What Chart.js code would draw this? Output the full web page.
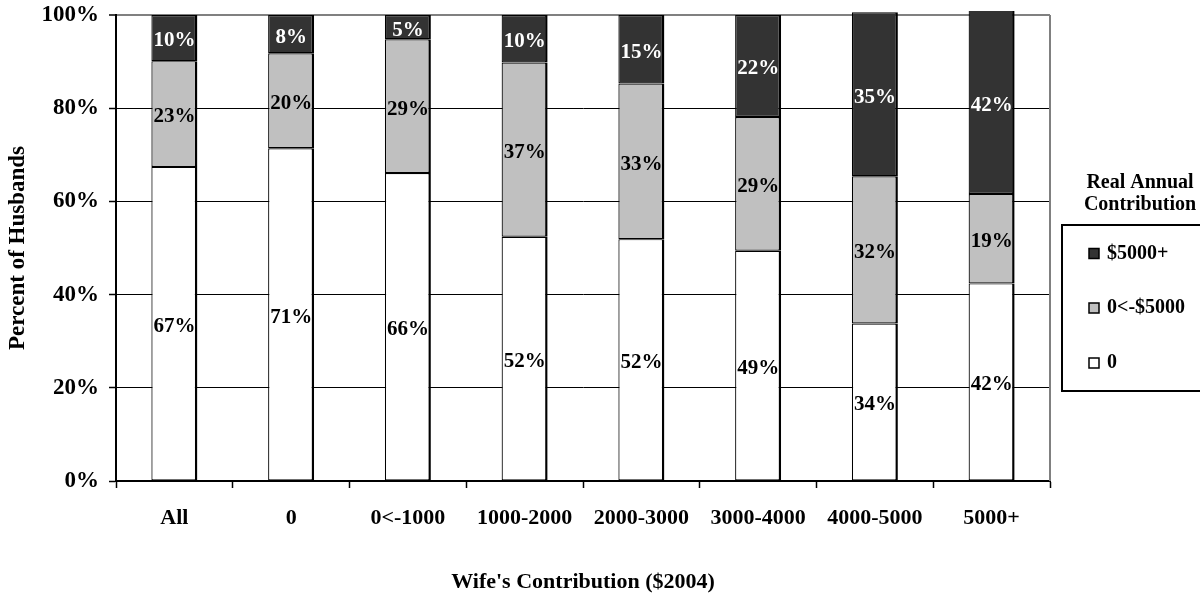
<!DOCTYPE html>
<html>
<head>
<meta charset="utf-8">
<script src="https://cdn.jsdelivr.net/npm/chart.js@4.4.1/dist/chart.umd.min.js"></script>
<style>
  html, body { margin: 0; padding: 0; background: #ffffff; }
  #wrap { width: 1200px; height: 599px; position: relative; }
</style>
</head>
<body>
<div id="wrap"><canvas id="c" width="1200" height="599"></canvas></div>
<script>
// ---- data (percent of husbands) ----
const categories = ["All", "0", "0<-1000", "1000-2000", "2000-3000", "3000-4000", "4000-5000", "5000+"];
const seriesZero   = [67.4, 71.4, 66.1, 52.4, 51.9, 49.4, 33.8, 42.4];   // 0
const seriesMid    = [22.7, 20.4, 28.7, 37.4, 33.4, 28.7, 31.6, 19.2];   // 0<-$5000
const seriesHigh   = [9.9, 8.2, 5.2, 10.2, 14.7, 21.9, 35.2, 41.6];      // $5000+
const seriesNames  = ["0", "0<-$5000", "$5000+"];
const yTicks       = [0, 20, 40, 60, 80, 100];
const legendTitle  = ["Real Annual", "Contribution"];
const xTitle       = "Wife's Contribution ($2004)";
const yTitle       = "Percent of Husbands";

const FONT = "'Liberation Serif', 'Times New Roman', serif";
const fillColors  = ["#ffffff", "#c0c0c0", "#333333"];
const labelColors = ["#000000", "#000000", "#ffffff"];

const barBorder = { top: 1.2, bottom: 1.2, left: 1.2, right: 2.5 };

function makeDataset(label, data, i) {
  return {
    label: label,
    data: data,
    backgroundColor: fillColors[i],
    borderColor: "#000000",
    borderWidth: barBorder,
    borderSkipped: false,
    barPercentage: 0.394,
    categoryPercentage: 1.0,
    clip: { left: 0, right: 0, bottom: 0, top: 4 }
  };
}

const dataLabelPlugin = {
  id: "dataLabels",
  afterDatasetsDraw(chart) {
    const ctx = chart.ctx;
    ctx.save();
    ctx.font = "bold 21px " + FONT;
    ctx.textAlign = "center";
    ctx.textBaseline = "middle";
    chart.data.datasets.forEach((ds, di) => {
      const meta = chart.getDatasetMeta(di);
      meta.data.forEach((bar, i) => {
        const top = Math.max(bar.y, chart.chartArea.top - 4);
        const cy = (top + bar.base) / 2 + 3;
        ctx.fillStyle = labelColors[di];
        ctx.fillText(Math.round(ds.data[i]) + "%", bar.x, cy);
      });
    });
    ctx.restore();
  }
};

const framePlugin = {
  id: "frame",
  beforeDatasetsDraw(chart) {
    const { ctx, chartArea } = chart;
    ctx.save();
    ctx.strokeStyle = "#808080";
    ctx.lineWidth = 2;
    ctx.beginPath();
    ctx.moveTo(chartArea.right, chartArea.top);
    ctx.lineTo(chartArea.right, chartArea.bottom);
    ctx.stroke();
    ctx.restore();
  }
};

const legendPlugin = {
  id: "customLegend",
  afterDraw(chart) {
    const ctx = chart.ctx;
    ctx.save();
    ctx.fillStyle = "#000000";
    ctx.font = "bold 20px " + FONT;
    ctx.textAlign = "center";
    ctx.textBaseline = "middle";
    ctx.fillText(legendTitle[0], 1140, 183);
    ctx.fillText(legendTitle[1], 1140, 205);
    ctx.strokeStyle = "#000000";
    ctx.lineWidth = 2;
    ctx.strokeRect(1062, 225, 160, 166);
    const ys = [253.5, 308, 363];
    const order = [2, 1, 0];
    order.forEach((di, k) => {
      const y = ys[k];
      ctx.fillStyle = fillColors[di];
      ctx.fillRect(1089, y - 5, 10, 10);
      ctx.lineWidth = 1.5;
      ctx.strokeStyle = "#000000";
      ctx.strokeRect(1089, y - 5, 10, 10);
      ctx.fillStyle = "#000000";
      ctx.textAlign = "left";
      ctx.fillText(chart.data.datasets[di].label, 1107, y);
    });
    ctx.restore();
  }
};

new Chart(document.getElementById("c"), {
  type: "bar",
  data: {
    labels: categories,
    datasets: [
      makeDataset(seriesNames[0], seriesZero, 0),
      makeDataset(seriesNames[1], seriesMid, 1),
      makeDataset(seriesNames[2], seriesHigh, 2)
    ]
  },
  options: {
    responsive: false,
    animation: false,
    layout: { padding: { top: 15, right: 150, left: 0, bottom: 0 } },
    plugins: {
      legend: { display: false },
      tooltip: { enabled: false }
    },
    scales: {
      x: {
        stacked: true,
        afterFit(scale) { scale.height = 118; scale.paddingLeft = 0; scale.paddingRight = 0; },
        grid: {
          display: true,
          drawOnChartArea: false,
          drawTicks: true,
          tickLength: 7,
          tickColor: "#000000",
          tickWidth: 1.5,
          offset: true
        },
        border: { display: true, color: "#000000", width: 2 },
        ticks: {
          color: "#000000",
          font: { family: FONT, size: 22, weight: "bold" },
          padding: 17,
          autoSkip: false,
          maxRotation: 0,
          minRotation: 0
        },
        title: {
          display: true,
          text: xTitle,
          color: "#000000",
          font: { family: FONT, size: 22, weight: "bold" },
          padding: { top: 0, bottom: 3 }
        }
      },
      y: {
        stacked: true,
        min: 0,
        max: 100,
        afterFit(scale) { scale.width = 116; scale.paddingTop = 0; scale.paddingBottom = 0; },
        afterBuildTicks(scale) { scale.ticks = yTicks.map(v => ({ value: v })); },
        grid: {
          color: (c) => (c.tick && c.tick.value === 100 ? "#808080" : "#000000"),
          lineWidth: (c) => (c.tick && c.tick.value === 100 ? 2 : 1),
          drawTicks: true,
          tickLength: 7,
          tickColor: "#000000",
          tickWidth: 1.5
        },
        border: { display: true, color: "#000000", width: 2 },
        ticks: {
          color: "#000000",
          font: { family: FONT, size: 23, weight: "bold" },
          padding: 10,
          callback: (v) => v + "%"
        },
        title: {
          display: true,
          text: yTitle,
          color: "#000000",
          font: { family: FONT, size: 23, weight: "bold" },
          padding: { top: 4, bottom: 0 }
        }
      }
    }
  },
  plugins: [framePlugin, dataLabelPlugin, legendPlugin]
});
</script>
</body>
</html>
